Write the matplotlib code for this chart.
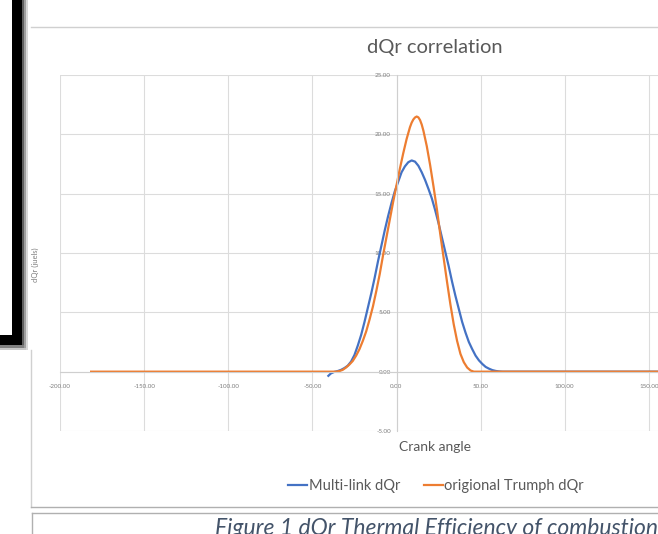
import matplotlib.pyplot as plt
from matplotlib.patches import Rectangle
from matplotlib.lines import Line2D

plt.rcParams['font.family'] = ['Lato', 'DejaVu Sans']

# crank angle (deg) and dQr (juels)
multi_x = [-40.5, -39, -37, -35, -33, -31, -29, -27, -25, -23, -21, -19, -17, -15,
           -13, -11, -9, -7, -5, -3, -1, 1, 3, 5, 7, 9, 11, 13, 15, 17, 19, 21,
           23, 25, 27, 29, 31, 33, 35, 37, 39, 41, 43, 45, 47, 49, 51, 53, 55,
           57, 59, 61, 63, 181.5]
multi_y = [-0.35, -0.15, -0.02, 0.05, 0.15, 0.3, 0.5, 0.85, 1.4, 2.2, 3.1, 4.2, 5.4, 6.6,
           7.9, 9.3, 10.6, 11.9, 13.1, 14.2, 15.2, 16.0, 16.8, 17.3, 17.65, 17.8, 17.7,
           17.35, 16.8, 16.15, 15.4, 14.6, 13.6, 12.5, 11.3, 10.1, 8.9, 7.6, 6.4, 5.3,
           4.2, 3.3, 2.5, 1.9, 1.35, 0.95, 0.65, 0.4, 0.25, 0.13, 0.06, 0.02, 0.0, 0.0]

orig_x = [-181.5, -36, -34, -32, -30, -28, -26, -24, -22, -20, -18, -16, -14, -12,
          -10, -8, -6, -4, -2, 0, 2, 4, 6, 8, 9, 10, 11, 12, 13, 14, 15, 16, 18,
          20, 22, 24, 26, 28, 30, 32, 34, 36, 38, 40, 42, 44, 46, 181.5]
orig_y = [0.0, 0.0, 0.05, 0.15, 0.35, 0.6, 0.9, 1.35, 1.9, 2.6, 3.4, 4.4, 5.5, 6.8,
          8.2, 9.8, 11.3, 12.8, 14.3, 15.7, 17.1, 18.4, 19.6, 20.6, 20.98, 21.25,
          21.42, 21.5, 21.43, 21.2, 20.82, 20.3, 19.0, 17.4, 15.6, 13.7, 11.6, 9.6,
          7.6, 5.7, 4.0, 2.6, 1.5, 0.8, 0.35, 0.1, 0.0, 0.0]

x_ticks = [-200, -150, -100, -50, 0, 50, 100, 150, 200]
y_ticks = [-5, 0, 5, 10, 15, 20, 25]

W, H = 658, 534
fig = plt.figure(figsize=(W / 100, H / 100), dpi=100)


def fx(px):
    return px / W


def fy(py):
    return 1 - py / H


def rect(x0, y0, x1, y1, color):
    fig.add_artist(Rectangle((fx(x0), fy(y1)), fx(x1) - fx(x0), fy(y0) - fy(y1),
                             transform=fig.transFigure, color=color, lw=0))


def hline(x0, x1, y, color='#d0d0d0', lw=1.0):
    fig.add_artist(Line2D([fx(x0), fx(x1)], [fy(y), fy(y)],
                          transform=fig.transFigure, color=color, lw=lw))


def vline(x, y0, y1, color='#d0d0d0', lw=1.0):
    fig.add_artist(Line2D([fx(x), fx(x)], [fy(y0), fy(y1)],
                          transform=fig.transFigure, color=color, lw=lw))


# black bracket on the left of the page, with its soft shadow
rect(22, 0, 24, 350, '#606060')
rect(24, 0, 26, 350, '#a0a0a0')
rect(26, 0, 28, 350, '#d8d8d8')
rect(0, 345, 24, 348, '#808080')
rect(0, 348, 26, 350, '#c8c8c8')
rect(12, 0, 22, 345, 'black')
rect(0, 335, 22, 345, 'black')

# chart border and caption box
hline(31, W, 27)
vline(30.7, 350, 507)
hline(30.7, W, 507, color='#b0b0b0')
hline(32.3, W, 513, color='#b0b0b0')
vline(32.3, 513, H, color='#b0b0b0')

ax = fig.add_axes([fx(60), fy(431), 673 / W, 356 / H])
ax.plot(multi_x, multi_y, color='#4472C4', lw=1.6, label='Multi-link dQr')
ax.plot(orig_x, orig_y, color='#ED7D31', lw=1.6, label='origional Trumph dQr')
ax.set_xlim(-200, 200)
ax.set_ylim(-5, 25)
ax.set_xticks(x_ticks)
ax.set_yticks(y_ticks)
ax.set_xticklabels([f'{v:.2f}' for v in x_ticks])
ax.set_yticklabels([f'{v:.2f}' for v in y_ticks])
ax.grid(True, color='#dcdcdc', lw=0.8)
ax.set_axisbelow(True)
for side in ['top', 'right']:
    ax.spines[side].set_visible(False)
ax.spines['left'].set_position(('data', 0))
ax.spines['bottom'].set_position(('data', 0))
ax.spines['left'].set_color('#cfcfcf')
ax.spines['bottom'].set_color('#cfcfcf')
ax.tick_params(length=0, labelsize=4.5, labelcolor='#7f7f7f')
ax.tick_params(axis='x', pad=9)
ax.tick_params(axis='y', pad=4)

fig.text(fx(435), fy(48), 'dQr correlation', fontsize=14.5, color='#595959',
         ha='center', va='center')
fig.text(fx(435), fy(447), 'Crank angle', fontsize=10, color='#595959',
         ha='center', va='center')
fig.text(fx(35), fy(265), 'dQr (juels)', fontsize=5.5, color='#7f7f7f',
         rotation=90, ha='center', va='center')

fig.legend(loc='center', bbox_to_anchor=(fx(436), fy(486)), ncol=2, frameon=False,
           fontsize=10.5, labelcolor='#595959', handlelength=1.3, handletextpad=0.1,
           columnspacing=1.6)

fig.text(fx(215), fy(518), 'Figure 1 dQr Thermal Efficiency of combustion',
         fontsize=16.5, color='#44546A', style='italic', ha='left', va='top')

fig.savefig('out.png', dpi=100)
